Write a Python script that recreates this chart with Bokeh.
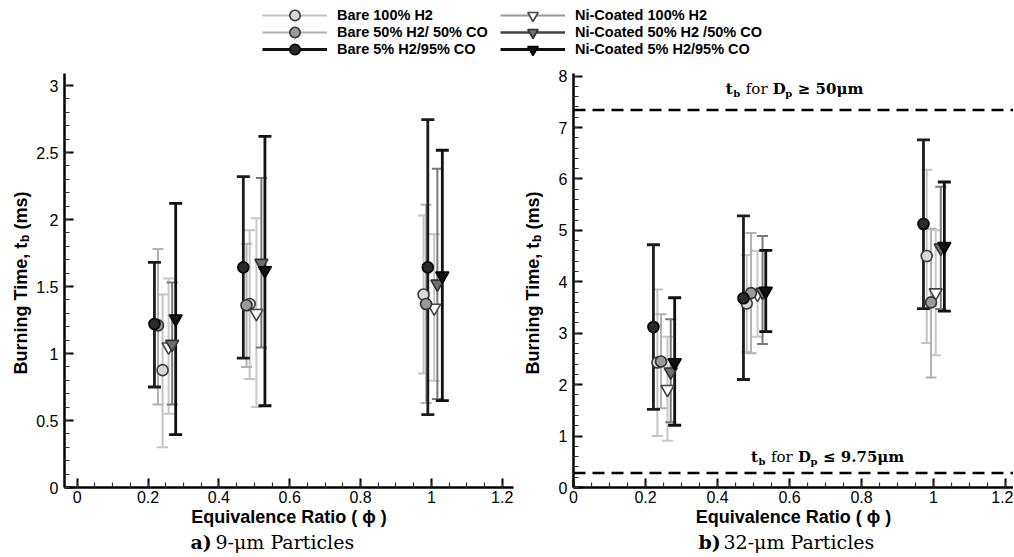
import math
from bokeh.plotting import figure
from bokeh.models import (ColumnDataSource, Whisker, TeeHead, Span, Label, Legend,
                          LegendItem, SingleIntervalTicker, CustomJSTickFormatter, Range1d)
from bokeh.layouts import column, row
from bokeh.embed import file_html
from bokeh.resources import INLINE

# ---------------- data ----------------
series_names = ["Bare 100% H2", "Bare 50% H2/ 50% CO", "Bare 5% H2/95% CO",
                "Ni-Coated 100% H2", "Ni-Coated 50% H2 /50% CO", "Ni-Coated 5% H2/95% CO"]

# panel a) 9-um particles : phi, mean burning time, lower/upper error limits (ms)
a_bare100_phi = [0.241, 0.487, 0.978]
a_bare100_tb = [0.876, 1.37, 1.44]
a_bare100_lo = [0.30, 0.81, 0.85]
a_bare100_hi = [1.44, 1.92, 2.03]

a_bare50_phi = [0.228, 0.478, 0.985]
a_bare50_tb = [1.21, 1.36, 1.37]
a_bare50_lo = [0.62, 0.90, 0.63]
a_bare50_hi = [1.78, 1.82, 2.11]

a_bare5_phi = [0.218, 0.469, 0.990]
a_bare5_tb = [1.22, 1.643, 1.643]
a_bare5_lo = [0.75, 0.965, 0.544]
a_bare5_hi = [1.68, 2.32, 2.745]

a_ni100_phi = [0.258, 0.506, 1.008]
a_ni100_tb = [1.05, 1.30, 1.34]
a_ni100_lo = [0.55, 0.60, 0.797]
a_ni100_hi = [1.56, 2.01, 1.89]

a_ni50_phi = [0.268, 0.520, 1.017]
a_ni50_tb = [1.07, 1.675, 1.52]
a_ni50_lo = [0.62, 1.045, 0.66]
a_ni50_hi = [1.53, 2.31, 2.38]

a_ni5_phi = [0.278, 0.530, 1.031]
a_ni5_tb = [1.26, 1.62, 1.58]
a_ni5_lo = [0.394, 0.61, 0.648]
a_ni5_hi = [2.12, 2.62, 2.517]

# panel b) 32-um particles
b_bare100_phi = [0.233, 0.481, 0.981]
b_bare100_tb = [2.43, 3.58, 4.50]
b_bare100_lo = [1.00, 2.64, 2.81]
b_bare100_hi = [3.85, 4.52, 6.18]

b_bare50_phi = [0.243, 0.493, 0.993]
b_bare50_tb = [2.45, 3.78, 3.60]
b_bare50_lo = [1.54, 2.61, 2.14]
b_bare50_hi = [3.37, 4.95, 5.03]

b_bare5_phi = [0.222, 0.472, 0.972]
b_bare5_tb = [3.12, 3.68, 5.125]
b_bare5_lo = [1.52, 2.10, 3.48]
b_bare5_hi = [4.72, 5.28, 6.76]

b_ni100_phi = [0.261, 0.511, 1.006]
b_ni100_tb = [1.91, 3.76, 3.79]
b_ni100_lo = [0.91, 2.93, 2.57]
b_ni100_hi = [2.93, 4.60, 5.00]

b_ni50_phi = [0.270, 0.525, 1.020]
b_ni50_tb = [2.25, 3.80, 4.66]
b_ni50_lo = [1.27, 2.79, 3.47]
b_ni50_hi = [3.27, 4.89, 5.85]

b_ni5_phi = [0.281, 0.534, 1.030]
b_ni5_tb = [2.43, 3.82, 4.69]
b_ni5_lo = [1.21, 3.03, 3.43]
b_ni5_hi = [3.69, 4.61, 5.94]

# reference burning times (ms) shown as dashed lines in panel b
tb_large = 7.34   # D_p >= 50 um
tb_small = 0.28   # D_p <= 9.75 um

panel_a = [
    (a_bare100_phi, a_bare100_tb, a_bare100_lo, a_bare100_hi),
    (a_bare50_phi, a_bare50_tb, a_bare50_lo, a_bare50_hi),
    (a_bare5_phi, a_bare5_tb, a_bare5_lo, a_bare5_hi),
    (a_ni100_phi, a_ni100_tb, a_ni100_lo, a_ni100_hi),
    (a_ni50_phi, a_ni50_tb, a_ni50_lo, a_ni50_hi),
    (a_ni5_phi, a_ni5_tb, a_ni5_lo, a_ni5_hi),
]
panel_b = [
    (b_bare100_phi, b_bare100_tb, b_bare100_lo, b_bare100_hi),
    (b_bare50_phi, b_bare50_tb, b_bare50_lo, b_bare50_hi),
    (b_bare5_phi, b_bare5_tb, b_bare5_lo, b_bare5_hi),
    (b_ni100_phi, b_ni100_tb, b_ni100_lo, b_ni100_hi),
    (b_ni50_phi, b_ni50_tb, b_ni50_lo, b_ni50_hi),
    (b_ni5_phi, b_ni5_tb, b_ni5_lo, b_ni5_hi),
]

# ---------------- styles ----------------
styles = [
    dict(marker="circle", fill="#d8d8d8", line="#3a3a3a", size=11, err="#c4c4c4", err_w=2, cap=11, leg_line="#c0c0c0", leg_lw=2),
    dict(marker="circle", fill="#9a9a9a", line="#333333", size=11, err="#b2b2b2", err_w=2, cap=11, leg_line="#b0b0b0", leg_lw=2),
    dict(marker="circle", fill="#2a2a2a", line="#000000", size=11, err="#1c1c1c", err_w=2.8, cap=13, leg_line="#111111", leg_lw=3),
    dict(marker="inverted_triangle", fill="#ffffff", line="#444444", size=13, err="#c8c8c8", err_w=2, cap=11, leg_line="#9a9a9a", leg_lw=2),
    dict(marker="inverted_triangle", fill="#6f6f6f", line="#333333", size=13, err="#7a7a7a", err_w=2, cap=11, leg_line="#444444", leg_lw=2.5),
    dict(marker="inverted_triangle", fill="#111111", line="#000000", size=13, err="#111111", err_w=2.8, cap=13, leg_line="#111111", leg_lw=3),
]
draw_order = [0, 3, 1, 4, 2, 5]

SANS = "Liberation Sans"
SERIF = "DejaVu Serif"
TOTAL_W = 1013
LEG_H = 62
PANEL_H = 469
CAP_H = 25

src_a = [ColumnDataSource(dict(x=d[0], y=d[1], lo=d[2], hi=d[3])) for d in panel_a]
src_b = [ColumnDataSource(dict(x=d[0], y=d[1], lo=d[2], hi=d[3])) for d in panel_b]


def tick_fmt():
    return CustomJSTickFormatter(code="return String(parseFloat(tick.toFixed(2)));")


def blank_fig(width, height, xr=(0, 1), yr=(0, 1)):
    f = figure(width=width, height=height, output_backend="svg", toolbar_location=None,
               x_axis_type=None, y_axis_type=None, min_border=0,
               x_range=Range1d(*xr), y_range=Range1d(*yr),
               background_fill_color="white", border_fill_color="white")
    f.outline_line_color = None
    f.grid.visible = False
    return f


def make_panel(srcs, width, xr, yr, y_major, y_minor_n, borders):
    left, right, top, bottom = borders
    p = figure(width=width, height=PANEL_H, output_backend="svg", toolbar_location=None,
               x_range=Range1d(*xr), y_range=Range1d(*yr),
               min_border_left=left, min_border_right=right,
               min_border_top=top, min_border_bottom=bottom,
               background_fill_color="white", border_fill_color="white")
    p.outline_line_color = None
    p.grid.visible = False

    for i in draw_order:
        st = styles[i]
        w = Whisker(source=srcs[i], base="x", upper="hi", lower="lo", dimension="height",
                    line_color=st["err"], line_width=st["err_w"],
                    upper_head=TeeHead(size=st["cap"], line_color=st["err"], line_width=st["err_w"]),
                    lower_head=TeeHead(size=st["cap"], line_color=st["err"], line_width=st["err_w"]))
        p.add_layout(w)
    for i in draw_order:
        st = styles[i]
        p.scatter(x="x", y="y", source=srcs[i], marker=st["marker"], size=st["size"],
                  fill_color=st["fill"], line_color=st["line"], line_width=1.6)

    p.xaxis.ticker = SingleIntervalTicker(interval=0.2, num_minor_ticks=4)
    p.yaxis.ticker = SingleIntervalTicker(interval=y_major, num_minor_ticks=y_minor_n)
    p.xaxis.formatter = tick_fmt()
    p.yaxis.formatter = tick_fmt()
    for ax in (p.xaxis, p.yaxis):
        ax.axis_line_width = 2.5
        ax.axis_line_color = "black"
        ax.major_tick_in = 9
        ax.major_tick_out = 0
        ax.minor_tick_in = 5
        ax.minor_tick_out = 0
        ax.major_tick_line_width = 2
        ax.minor_tick_line_width = 1.2
        ax.major_tick_line_color = "black"
        ax.minor_tick_line_color = "#333333"
        ax.major_label_text_font = SANS
        ax.major_label_text_font_size = "16px"
        ax.major_label_text_color = "black"
    p.yaxis.major_label_standoff = 6
    p.xaxis.major_label_standoff = 3
    p.xaxis.axis_label = "Equivalence Ratio ( \u03d5 )"
    p.xaxis.axis_label_text_font = SANS
    p.xaxis.axis_label_text_font_style = "bold"
    p.xaxis.axis_label_text_font_size = "18px"
    p.xaxis.axis_label_text_color = "black"
    p.xaxis.axis_label_standoff = 1
    return p


def ylabel_fig(width, bx, by):
    f = blank_fig(width, PANEL_H)
    common = dict(x_units="screen", y_units="screen", angle=math.pi / 2,
                  text_font=SANS, text_font_style="bold", text_color="black",
                  text_align="left", text_baseline="alphabetic")
    f.add_layout(Label(x=bx, y=by, text="Burning Time, t", text_font_size="18px", **common))
    f.add_layout(Label(x=bx + 4, y=by + 132.5, text="b", text_font_size="12px", **common))
    f.add_layout(Label(x=bx, y=by + 145, text="(ms)", text_font_size="18px", **common))
    return f


def rich_label(p, x, y, parts):
    # parts: (text, dx, dy, size, style)
    for text, dx, dy, size, style in parts:
        p.add_layout(Label(x=x, y=y, x_offset=dx, y_offset=dy, text=text,
                           text_font=SERIF, text_font_size=size, text_font_style=style,
                           text_color="black", text_align="left", text_baseline="alphabetic"))


ya = ylabel_fig(33, 20, 113)
pa = make_panel(src_a, 485, (-0.036, 1.232), (0, 3.09), 0.5, 5, (29, 5, 11, 42))
yb = ylabel_fig(25, 14, 113)
pb = make_panel(src_b, TOTAL_W - 543, (0, 1.222), (0, 8.05), 1, 5, (30, 0, 7, 44))

for loc in (tb_large, tb_small):
    pb.add_layout(Span(location=loc, dimension="width", line_color="black",
                       line_width=2.5, line_dash="12 7"))

rich_label(pb, 0.423, 7.74, [
    ("t", 0, 0, "15px", "bold"), ("b", 7.5, -4, "10px", "bold"),
    ("for", 20, 0, "15px", "normal"), ("D", 47, 0, "15px", "bold"),
    ("p", 59.5, -4, "10px", "bold"), ("\u2265 50\u03bcm", 72, 0, "15px", "bold")])
rich_label(pb, 0.493, 0.59, [
    ("t", 0, 0, "15px", "bold"), ("b", 7.5, -4, "10px", "bold"),
    ("for", 20, 0, "15px", "normal"), ("D", 47, 0, "15px", "bold"),
    ("p", 59.5, -4, "10px", "bold"), ("\u2264 9.75\u03bcm", 72, 0, "15px", "bold")])

# ---------------- captions ----------------
cap = blank_fig(TOTAL_W, CAP_H)
capc = dict(x_units="screen", y_units="screen", text_font=SERIF, text_color="black",
            text_align="left", text_baseline="alphabetic", text_font_size="19px")
for cx, t1, t2 in ((190, "a)", "9-\u03bcm Particles"), (698, "b)", "32-\u03bcm Particles")):
    cap.add_layout(Label(x=cx, y=15, text=t1, text_font_style="bold", **capc))
    cap.add_layout(Label(x=cx + 25, y=15, text=t2, **capc))

# ---------------- legend ----------------
# legend renderers reuse panel-a sources; the view range keeps them out of sight
leg = blank_fig(TOTAL_W, LEG_H, xr=(0, 1), yr=(100, 101))
row_centers = [15, 32, 49]
col_x = [262, 500]
for k, (name, st) in enumerate(zip(series_names, styles)):
    lr = leg.line(x="x", y="y", source=src_a[k], line_color=st["leg_line"], line_width=st["leg_lw"])
    sr = leg.scatter(x="x", y="y", source=src_a[k], marker=st["marker"], fill_color=st["fill"],
                     line_color=st["line"], line_width=1.6)
    c = row_centers[k % 3]
    lg = Legend(items=[LegendItem(label=name, renderers=[lr, sr])],
                location=(col_x[k // 3], LEG_H - (c + 13)),
                glyph_width=65, glyph_height=26, label_height=26, spacing=0,
                label_standoff=10, padding=0, margin=0,
                border_line_alpha=0, background_fill_alpha=0,
                label_text_font=SANS, label_text_font_style="bold",
                label_text_font_size="14.5px", label_text_color="black")
    leg.add_layout(lg)

layout = column(leg, row(ya, pa, yb, pb), cap)
open("out.html", "w").write(file_html(layout, INLINE))
